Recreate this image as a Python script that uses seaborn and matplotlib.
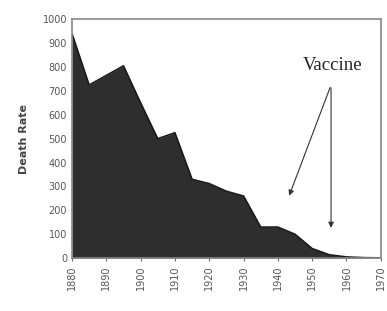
import numpy as np
import pandas as pd
import matplotlib
matplotlib.use("Agg")
import matplotlib.pyplot as plt
import seaborn as sns

# values (death rate per 5 years)
years = [1880, 1885, 1890, 1895, 1900, 1905, 1910, 1915, 1920, 1925,
         1930, 1935, 1940, 1945, 1950, 1955, 1960, 1965, 1970]
death_rate = [940, 725, 765, 805, 650, 500, 525, 330, 312, 280,
              260, 130, 130, 100, 40, 14, 5, 2, 1]
x_ticks = list(range(1880, 1971, 10))
y_ticks = list(range(0, 1001, 100))

df = pd.DataFrame({"Year": years, "Death Rate": death_rate})

sns.set_style("ticks")
fig = plt.figure(figsize=(3.87, 3.11), dpi=100)
ax = fig.add_axes([0.186, 0.17, 0.798, 0.768])

#filled area under the curve
ax.fill_between(df["Year"], df["Death Rate"], color="#2e2e2e", lw=0)
sns.lineplot(data=df, x="Year", y="Death Rate", color="#1a1a1a", lw=1.2, ax=ax)

ax.set_xlim(1880, 1970)
ax.set_ylim(0, 1000)
ax.set_xticks(x_ticks)
ax.set_yticks(y_ticks)
ax.set_xticklabels([str(y) for y in x_ticks], rotation=90, fontsize=7, color="#555555")
ax.tick_params(axis="y", labelsize=7, labelcolor="#555555", length=0)
ax.tick_params(axis="x", length=2, color="#666666")
ax.set_xlabel("")
ax.set_ylabel("Death Rate", fontsize=8, fontweight="bold", color="#444444", labelpad=10)

for s in ax.spines.values():
    s.set_color("#888888")
    s.set_linewidth(1.2)

# vaccine label + two arrows from the same point under it
ax.text(1956, 805, "Vaccine", fontsize=13.5, family="Liberation Serif",
        ha="center", va="center", color="#222222")
arrow = dict(arrowstyle="-|>", color="#333333", lw=0.8, mutation_scale=8)
ax.annotate("", xy=(1943, 250), xytext=(1955.5, 725), arrowprops=arrow)
ax.annotate("", xy=(1955.5, 115), xytext=(1955.5, 725), arrowprops=arrow)

fig.savefig("out.png", dpi=100)
